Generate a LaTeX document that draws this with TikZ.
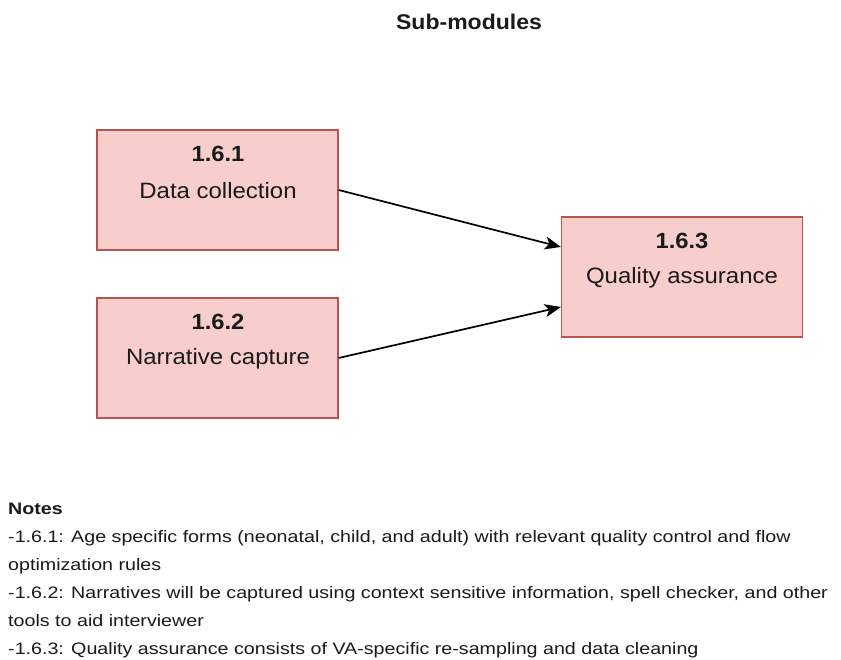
\documentclass[tikz,border=0pt]{standalone}
\usepackage{fontspec}
\setmainfont{Liberation Sans}[FakeStretch=1.08]
\newfontfamily\notesfont{Liberation Sans}[FakeStretch=1.185]
\usetikzlibrary{arrows.meta}
\definecolor{boxfill}{HTML}{F8CECC}
\definecolor{boxline}{HTML}{B85450}
\definecolor{txt}{HTML}{1A1A1A}
\tikzset{
  module/.style={draw=boxline, fill=boxfill, line width=1.3pt, minimum width=241pt, minimum height=120pt, inner sep=0pt},
  modnum/.style={font=\fontsize{22}{26}\selectfont\bfseries, text=txt},
  modname/.style={font=\fontsize{22.2}{26}\selectfont, text=txt},
  link/.style={line width=1.7pt, -{Stealth[length=16pt,width=13pt,inset=4pt]}},
}
\begin{document}
\begin{tikzpicture}[x=1pt,y=-1pt]
\useasboundingbox (0,0) rectangle (841,660);
\fill[white] (0,0) rectangle (841,660);

% heading
\node[font=\fontsize{21.3}{25}\selectfont\bfseries, text=txt] (title) at (469,22) {Sub-modules};

% sub-module boxes
\node[module] (m1) at (217.5,190) {};
\node[module] (m2) at (217.5,358) {};
\node[module] (m3) at (682,277) {};

\node[modnum]  (m1num)  at (218,154) {1.6.1};
\node[modname] (m1name) at (218,191) {Data collection};
\node[modnum]  (m2num)  at (218,322) {1.6.2};
\node[modname] (m2name) at (218,359) {Narrative capture};
\node[modnum]  (m3num)  at (682,241) {1.6.3};
\node[modname] (m3name) at (682,278) {Quality assurance};

% data flow into quality assurance
\draw[link] (m1.east) -- ([yshift=30pt]m3.west);
\draw[link] (m2.east) -- ([yshift=-30pt]m3.west);

% notes
\node[anchor=north west, align=left, inner sep=0pt, text=txt,
      font=\notesfont\fontsize{16.6}{28}\selectfont] (notes) at (8,503)
{\textbf{Notes}\\
-1.6.1: Age specific forms (neonatal, child, and adult) with relevant quality control and flow\\
optimization rules\\
-1.6.2: Narratives will be captured using context sensitive information, spell checker, and other\\
tools to aid interviewer\\
-1.6.3: Quality assurance consists of VA-specific re-sampling and data cleaning};
\end{tikzpicture}
\end{document}
